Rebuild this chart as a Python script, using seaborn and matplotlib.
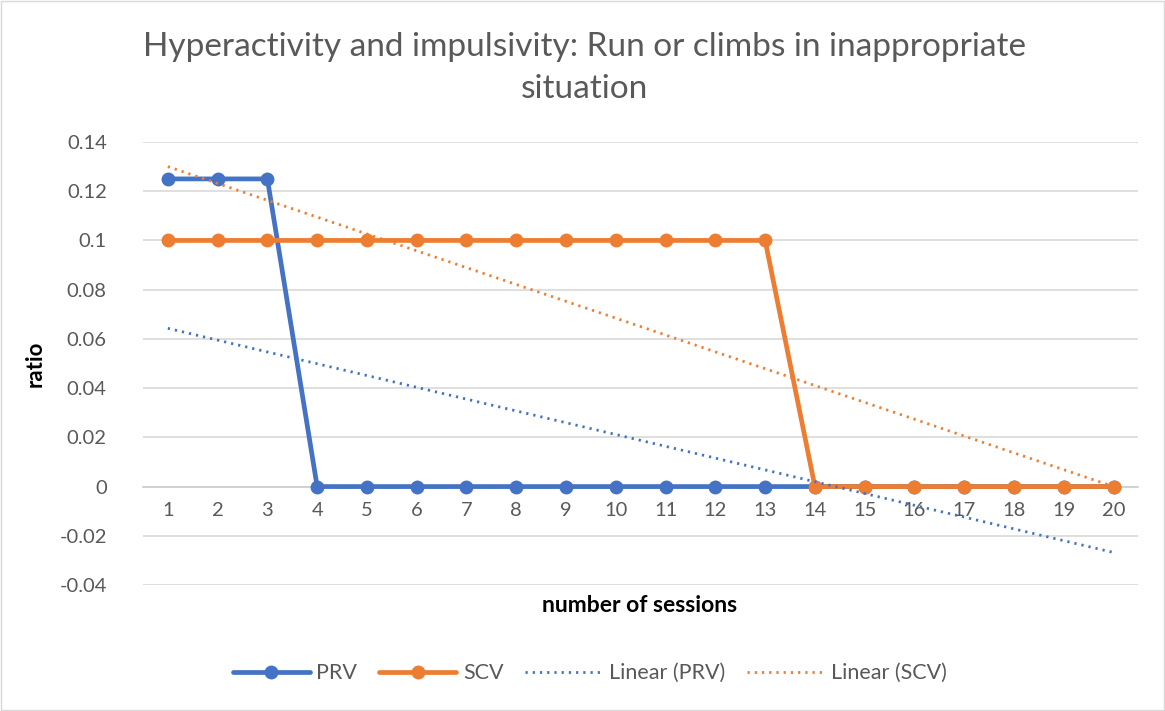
import numpy as np
import pandas as pd
import matplotlib.pyplot as plt
import seaborn as sns
from matplotlib.lines import Line2D

# Data
sessions = list(range(1, 21))
prv = [0.125, 0.125, 0.125] + [0.0] * 17
scv = [0.1] * 13 + [0.0] * 7

df = pd.DataFrame({'session': sessions, 'PRV': prv, 'SCV': scv})

# Linear trend lines (least squares, like Excel's "Linear" trendline)
for col in ['PRV', 'SCV']:
    slope, intercept = np.polyfit(df['session'], df[col], 1)
    df[f'Linear ({col})'] = intercept + slope * df['session']

blue = '#4472C4'
orange = '#ED7D31'
text_grey = '#595959'
dots = (0, (0.8, 1.8))

sns.set_theme(style="white")
plt.rcParams['font.family'] = ['Lato', 'DejaVu Sans']

fig = plt.figure(figsize=(11.65, 7.11), dpi=100)
ax = fig.add_axes([0.1227, 0.1772, 0.8545, 0.6231])

# Main series
sns.lineplot(data=df, x='session', y='PRV', ax=ax, color=blue, linewidth=3.4,
             marker='o', markersize=10, markeredgewidth=0, zorder=3)
sns.lineplot(data=df, x='session', y='SCV', ax=ax, color=orange, linewidth=3.4,
             marker='o', markersize=10, markeredgewidth=0, zorder=3)

# Trend lines
sns.lineplot(data=df, x='session', y='Linear (PRV)', ax=ax, color=blue,
             linewidth=2, linestyle=dots, zorder=4)
sns.lineplot(data=df, x='session', y='Linear (SCV)', ax=ax, color=orange,
             linewidth=2, linestyle=dots, zorder=4)

# Axes styling
ax.set_xlim(0.5, 20.5)
ax.set_ylim(-0.04, 0.14)
ax.set_yticks(np.arange(-0.04, 0.141, 0.02))
ax.set_yticklabels(['-0.04', '-0.02', '0', '0.02', '0.04', '0.06', '0.08',
                    '0.1', '0.12', '0.14'])
ax.set_xticks(sessions)
ax.set_xticklabels([str(s) for s in sessions])
ax.grid(axis='y', color='#D9D9D9', linewidth=1.2, zorder=0)
ax.set_axisbelow(True)

for side in ['top', 'right', 'left']:
    ax.spines[side].set_visible(False)
ax.spines['bottom'].set_position(('data', 0))
ax.spines['bottom'].set_color('#D0D0D0')
ax.spines['bottom'].set_linewidth(1.2)
ax.tick_params(axis='both', length=0, labelsize=14.5, colors=text_grey)
ax.tick_params(axis='x', pad=11)
ax.tick_params(axis='y', pad=26)

ax.set_xlabel('')
ax.set_ylabel('ratio', fontsize=16, fontweight='bold', color='black', labelpad=10)
fig.text(0.549, 0.149, 'number of sessions', ha='center', va='center',
         fontsize=16.5, fontweight='bold', color='black')

fig.suptitle('Hyperactivity and impulsivity: Run or climbs in inappropriate\nsituation',
             x=0.502, y=0.955, fontsize=24, color=text_grey, linespacing=1.5)

# Legend
handles = [
    Line2D([], [], color=blue, linewidth=3.4, marker='o', markersize=10, markeredgewidth=0),
    Line2D([], [], color=orange, linewidth=3.4, marker='o', markersize=10, markeredgewidth=0),
    Line2D([], [], color=blue, linewidth=2, linestyle=dots),
    Line2D([], [], color=orange, linewidth=2, linestyle=dots),
]
labels = ['PRV', 'SCV', 'Linear (PRV)', 'Linear (SCV)']
leg = fig.legend(handles, labels, loc='center', bbox_to_anchor=(0.506, 0.053),
                 ncol=4, frameon=False, fontsize=15.5, handlelength=3.6,
                 columnspacing=1.0, handletextpad=0.3)
for t in leg.get_texts():
    t.set_color(text_grey)

# Light border around the chart
fig.patches.append(plt.Rectangle((0.001, 0.001), 0.998, 0.998, transform=fig.transFigure,
                                 fill=False, edgecolor='#D9D9D9', linewidth=1))

fig.savefig('out.png', dpi=100)
